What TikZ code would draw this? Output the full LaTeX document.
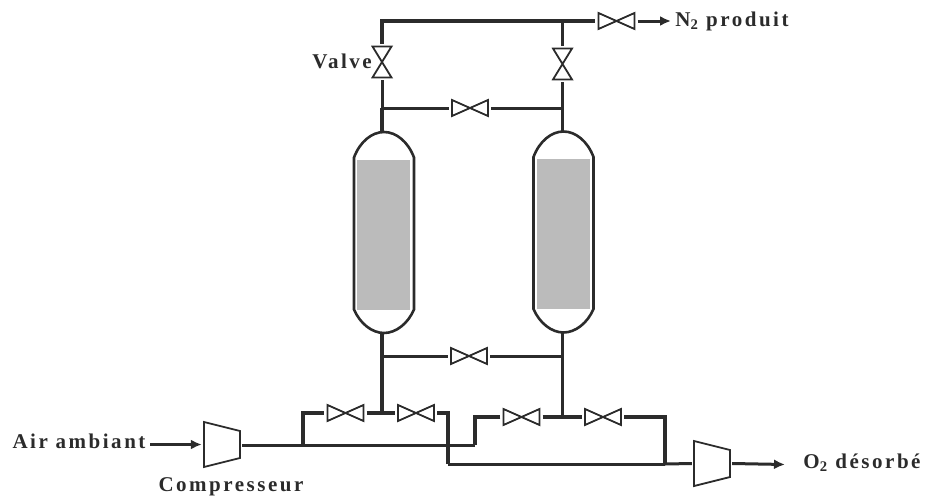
\documentclass[tikz,border=0pt]{standalone}
\usepackage{fontspec}
\setmainfont{Liberation Serif}[LetterSpace=12]
\usepackage{xcolor}
\usepackage{tikz}
\usetikzlibrary{arrows.meta}
\definecolor{pipecol}{HTML}{2B2B2B}
\definecolor{bedcol}{HTML}{BBBBBB}

\begin{document}
\begin{tikzpicture}[x=1pt,y=-1pt]
            \tikzset{HValve/.style={%
                    shape=rectangle,%
                    inner sep=0pt,%
                    minimum width=42pt,%
                    minimum height=20pt,%
                    path picture={\draw[pipecol,line width=1.8pt,shift={(path picture bounding box.center)}]
                        (-18,-8) -- (18,8) -- (18,-8) -- (-18,8) -- cycle;},%
                }}
            \tikzset{VValve/.style={%
                    shape=rectangle,%
                    inner sep=0pt,%
                    minimum width=22pt,%
                    minimum height=36pt,%
                    path picture={\draw[pipecol,line width=1.8pt,shift={(path picture bounding box.center)}]
                        (-9.5,-15.5) -- (9.5,15.5) -- (-9.5,15.5) -- (9.5,-15.5) -- cycle;},%
                }}
            \tikzset{Compressor/.style={%
                    shape=rectangle,%
                    inner sep=0pt,%
                    minimum width=40pt,%
                    minimum height=50pt,%
                    path picture={\draw[pipecol,line width=1.8pt,shift={(path picture bounding box.center)}]
                        (-18,-22.5) -- (18,-13.5) -- (18,13.5) -- (-18,22.5) -- cycle;},%
                }}
            \tikzset{Vessel/.style={%
                    shape=rectangle,%
                    inner sep=0pt,%
                    minimum width=66pt,%
                    minimum height=206pt,%
                    path picture={\begin{scope}[shift={(path picture bounding box.center)}]
                        \fill[bedcol] (-27,-73) rectangle (26,77);
                        \draw[pipecol,line width=2.6pt] (-30,-75) .. controls (-24,-91) and (-12,-100.5) .. (0,-100.5)
                            .. controls (12,-100.5) and (24,-91) .. (30,-75) -- (30,77)
                            .. controls (24,91) and (12,100.5) .. (0,100.5)
                            .. controls (-12,100.5) and (-24,91) .. (-30,77) -- cycle;
                        \end{scope}},%
                }}
            \tikzset{Pipe/.style={pipecol,line width=3.8pt},
                    ThinPipe/.style={pipecol,line width=3pt},
                    Flow/.style={pipecol,line width=3pt,-{Latex[length=11pt,width=10pt]}},
                    Label/.style={font=\bfseries\fontsize{21}{24}\selectfont,text=pipecol,inner sep=0pt}}

                \useasboundingbox (0,0) rectangle (926,498);

                \node[Vessel] (left) at (384,232.5) {};
                \node[Vessel] (right) at (563.5,232) {};

                \node[VValve] (v1) at (382,62) {};
                \node[VValve] (v2) at (562.5,64) {};
                \node[HValve] (v3) at (616.5,21) {};
                \node[HValve] (v4) at (470,108) {};
                \node[HValve] (v5) at (469,356) {};
                \node[HValve] (v6) at (345.5,413) {};
                \node[HValve] (v7) at (416,413) {};
                \node[HValve] (v8) at (521.5,417) {};
                \node[HValve] (v9) at (603,417) {};

                \node[Compressor] (c1) at (222,444.5) {};
                \node[Compressor] (c2) at (712,463.5) {};

                \node[Label] (air) at (79,441) {Air ambiant};
                \node[Label] (comp) at (231,487) {Compresseur};
                \node[Label] (valve) at (342,61) {Valve};
                \node[Label] (n2) at (732,21) {N\textsubscript{2} produit};
                \node[Label] (o2) at (862,463) {O\textsubscript{2} désorbé};

                \coordinate (tl) at (382,21);
                \coordinate (tr) at (562.5,21);
                \coordinate (ml) at (382,108);
                \coordinate (mr) at (562.5,108);
                \coordinate (lt) at (382,133);
                \coordinate (lb) at (382,332);
                \coordinate (rt) at (562.5,133);
                \coordinate (rb) at (562.5,332);
                \coordinate (bl) at (382,356);
                \coordinate (br) at (562.5,356);
                \coordinate (jl) at (382,413);
                \coordinate (jr) at (562.5,417);
                \coordinate (a1) at (303,413);
                \coordinate (a2) at (303,445);
                \coordinate (a3) at (475,445);
                \coordinate (a4) at (475,417);
                \coordinate (d1) at (448,413);
                \coordinate (d2) at (448,464);
                \coordinate (d3) at (665,464);
                \coordinate (d4) at (665,417);
                \coordinate (o1) at (785,464.5);
                \coordinate (n1) at (671,21);
                \coordinate (a0) at (150,444.5);

                \draw[Pipe] (v1.north) -- (tl) -- (v3.west);
                \draw[Pipe] (tr) -- (v2.north);
                \draw[ThinPipe] (v1.south) -- (ml);
                \draw[Pipe] (ml) -- (lt);
                \draw[Pipe] (v2.south) -- (mr) -- (rt);
                \draw[ThinPipe] (ml) -- (v4.west);
                \draw[ThinPipe] (v4.east) -- (mr);

                \draw[Pipe] (lb) -- (jl);
                \draw[Pipe] (rb) -- (jr);
                \draw[ThinPipe] (bl) -- (v5.west);
                \draw[ThinPipe] (v5.east) -- (br);

                \draw[Pipe] (a2) -- (a1) -- (v6.west);
                \draw[Pipe] (v6.east) -- (v7.west);
                \draw[Pipe] (v7.east) -- (d1) -- (d2);
                \draw[ThinPipe] (d2) -- (d3);
                \draw[Pipe] (d3) -- (d4) -- (v9.east);
                \draw[Pipe] (v8.east) -- (v9.west);
                \draw[Pipe] (v8.west) -- (a4) -- (a3);
                \draw[ThinPipe] (c1.east |- a3) -- (a3);
                \draw[ThinPipe] (d3) -- (c2.west);

                \draw[Flow] (a0) -- (c1.west);
                \draw[Flow] (c2.east) -- (o1);
                \draw[Flow] (v3.east) -- (n1);
        \end{tikzpicture}
\end{document}
